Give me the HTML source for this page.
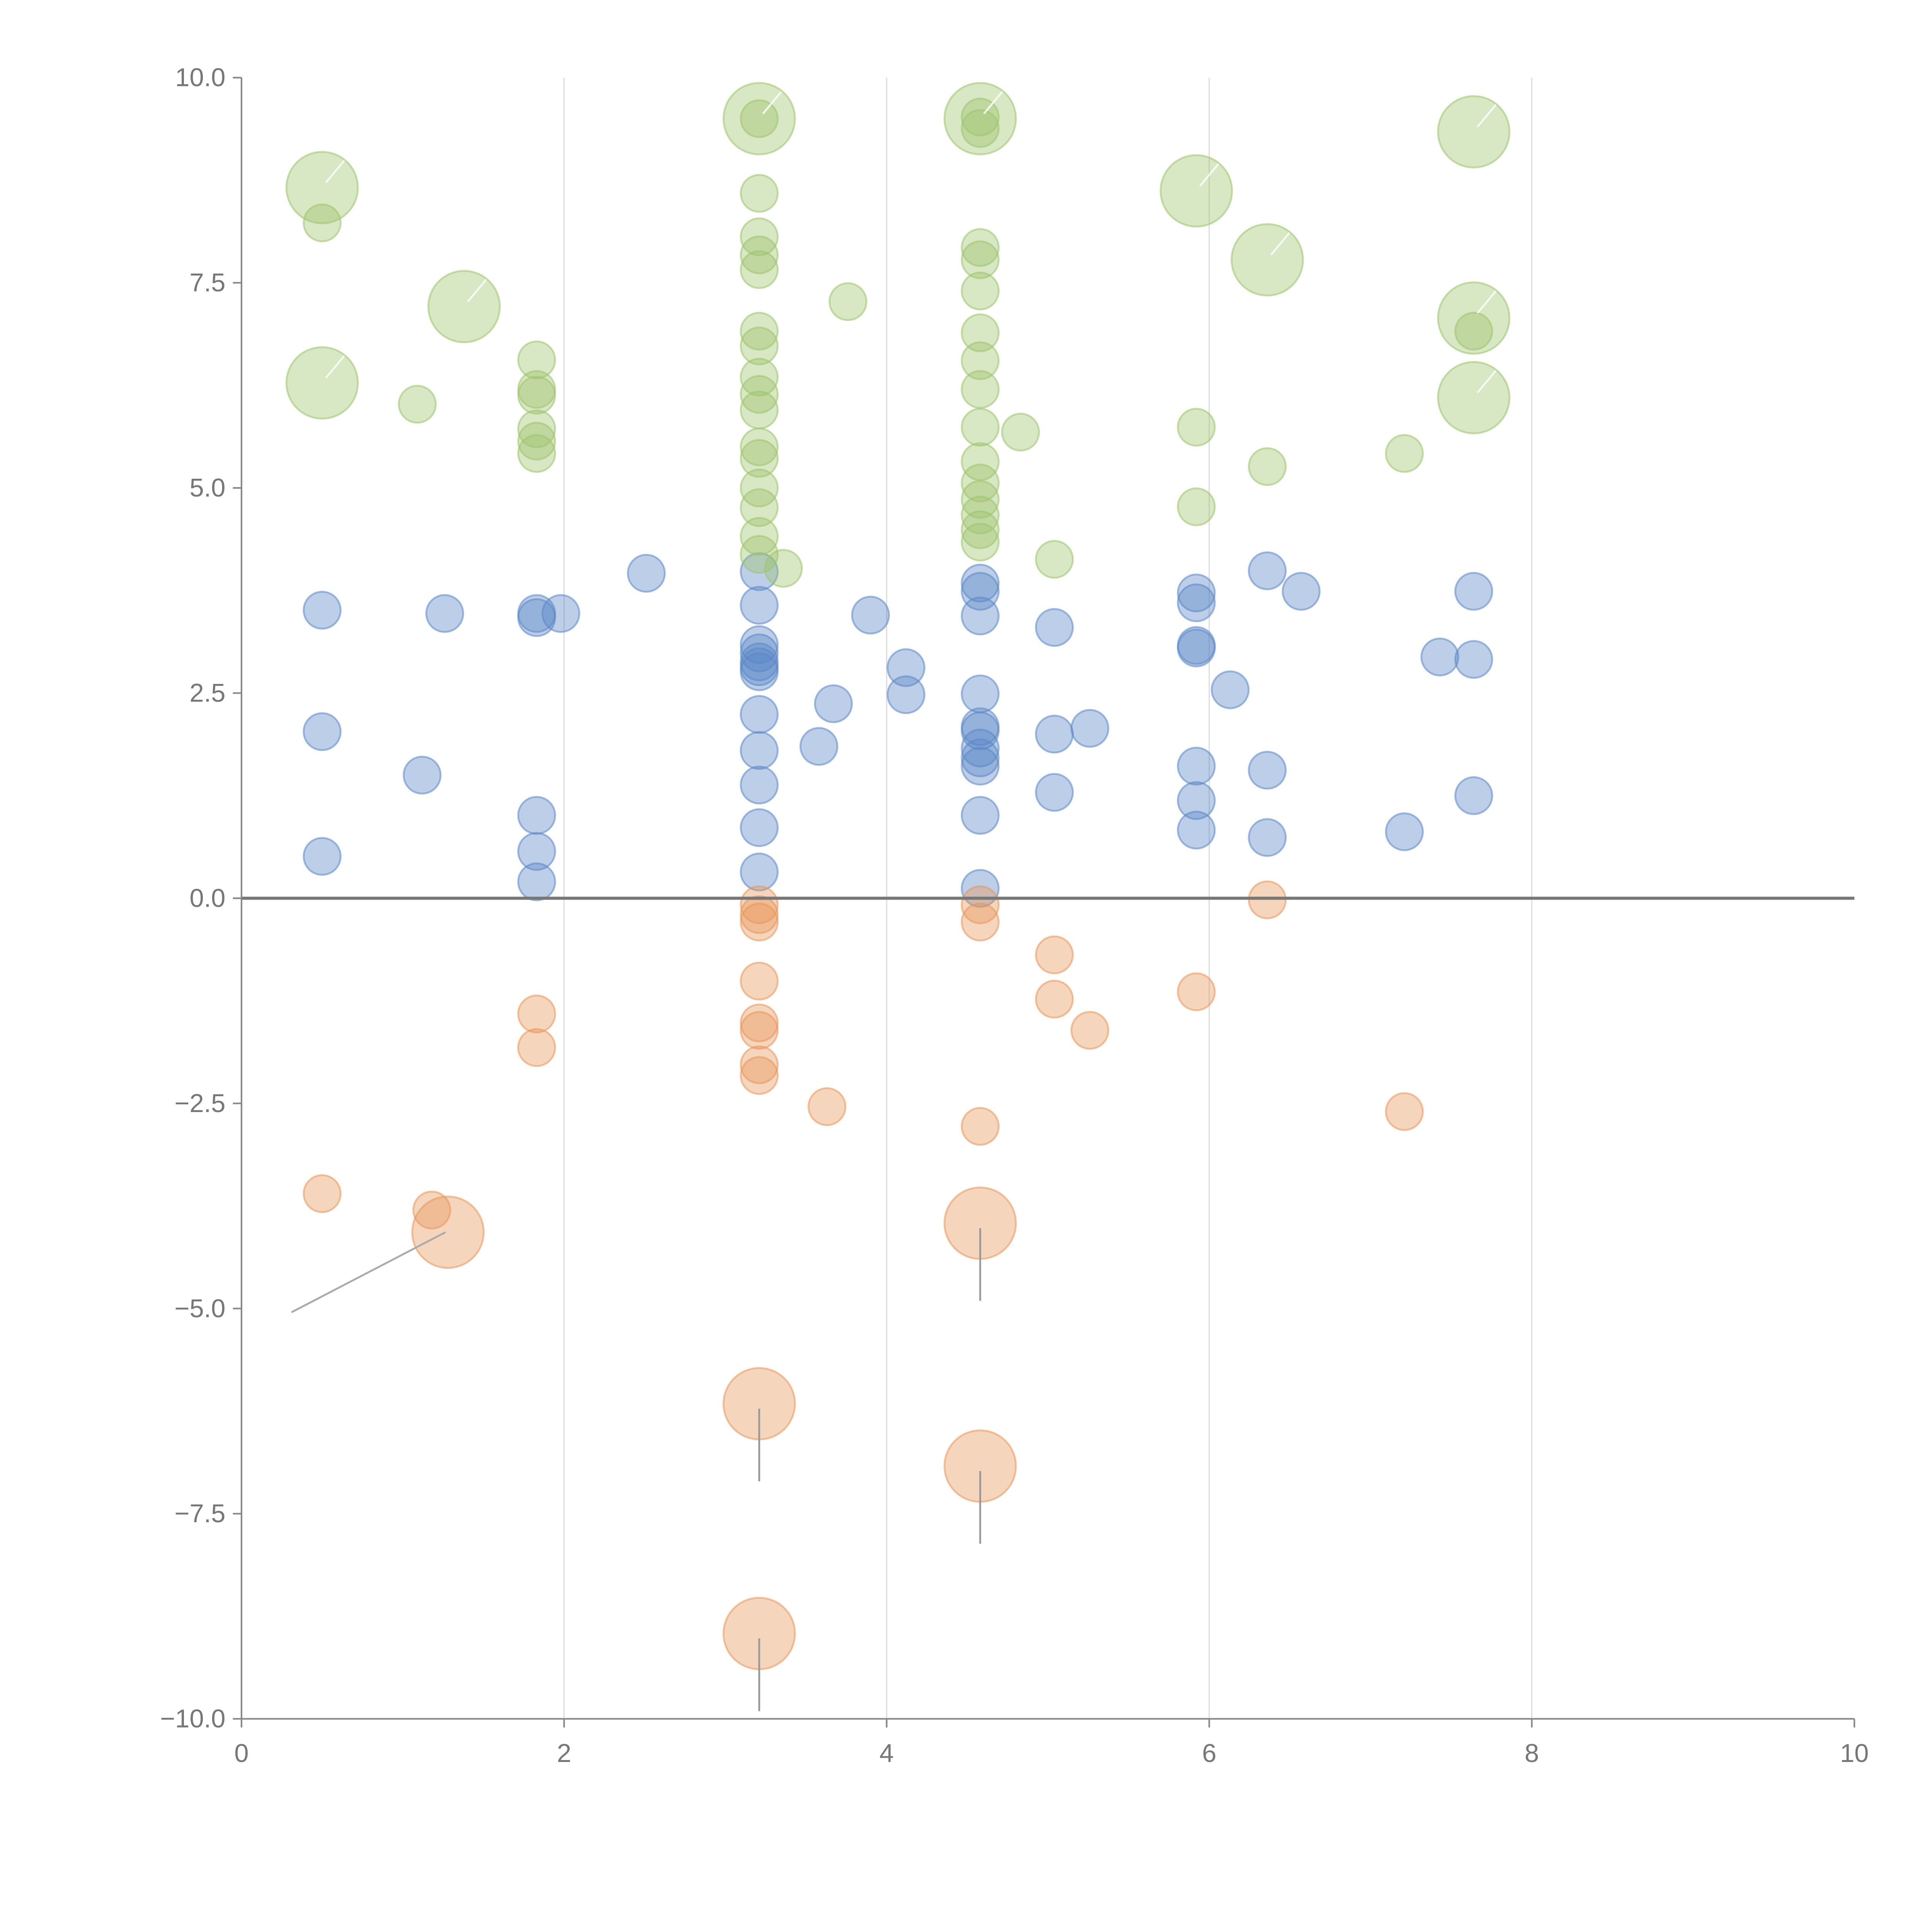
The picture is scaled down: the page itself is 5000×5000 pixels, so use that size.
<!DOCTYPE html>
<html><head><meta charset="utf-8"><style>
html,body{margin:0;padding:0;background:#fff;}
svg{display:block;}
text{font-family:"Liberation Sans",sans-serif;fill:#777;font-size:21px;}
</style></head><body>
<svg id="chart" width="5000" height="5000" viewBox="0 0 1568 1568" xmlns="http://www.w3.org/2000/svg">
<g id="grid"></g>
<g id="marks"></g>
<g id="axes"></g>
</svg>
<script>
const xTicks=[0,2,4,6,8,10];
const yTicks=[-10,-7.5,-5,-2.5,0,2.5,5,7.5,10];
const greenSmallX=[0.50,1.09,1.83,1.83,1.83,1.83,1.83,1.83,3.21,3.21,3.21,3.21,3.21,3.21,3.21,3.21,3.21,3.21,3.21,3.21,3.21,3.21,3.21,3.36,3.76,4.58,4.58,4.58,4.58,4.58,4.58,4.58,4.58,4.58,4.58,4.58,4.58,4.58,4.83,5.04,5.92,5.92,6.36,7.21,7.64,4.58,3.21,4.58];
const greenSmallY=[8.23,6.02,6.56,6.20,6.13,5.72,5.57,5.42,8.59,8.06,7.84,7.66,6.91,6.73,6.35,6.14,5.95,5.50,5.36,5.00,4.76,4.41,4.19,4.02,7.27,7.93,7.78,7.40,6.89,6.55,6.20,5.74,5.32,5.06,4.86,4.67,4.49,4.34,5.68,4.13,5.74,4.77,5.26,5.42,6.91,9.52,9.50,9.38];
const greenLargeX=[0.50,0.50,1.38,3.21,4.58,5.92,6.36,7.64,7.64,7.64];
const greenLargeY=[8.66,6.28,7.21,9.50,9.50,8.62,7.78,9.34,7.07,6.10];
const blueX=[0.50,0.50,0.50,1.12,1.26,1.83,1.83,1.98,1.83,1.83,1.83,2.51,3.21,3.21,3.21,3.21,3.21,3.21,3.21,3.21,3.21,3.21,3.21,3.21,3.58,3.67,3.90,4.12,4.12,4.58,4.58,4.58,4.58,4.58,4.58,4.58,4.58,4.58,4.58,4.58,5.04,5.04,5.04,5.26,5.92,5.92,5.92,5.92,5.92,5.92,5.92,6.13,6.36,6.36,6.36,6.57,7.21,7.43,7.64,7.64,7.64];
const blueY=[3.51,2.03,0.51,1.50,3.47,3.47,3.42,3.47,1.01,0.57,0.20,3.96,3.98,3.57,3.09,2.99,2.88,2.82,2.76,2.24,1.80,1.38,0.86,0.32,1.85,2.37,3.45,2.81,2.48,3.84,3.74,3.44,2.49,2.09,2.04,1.83,1.71,1.61,1.01,0.12,3.30,2.00,1.29,2.07,3.72,3.60,3.08,3.05,1.61,1.19,0.83,2.54,3.99,1.56,0.74,3.74,0.81,2.94,3.74,2.91,1.25];
const orangeSmallX=[3.21,3.21,3.21,3.21,3.21,3.21,3.21,3.21,3.63,1.83,1.83,0.50,1.18,4.58,4.58,4.58,5.04,5.04,5.26,5.92,6.36,7.21];
const orangeSmallY=[-0.08,-0.20,-0.29,-1.01,-1.52,-1.61,-2.03,-2.16,-2.54,-1.41,-1.82,-3.60,-3.80,-0.08,-0.29,-2.78,-0.69,-1.23,-1.61,-1.14,-0.02,-2.60];
const orangeLargeX=[1.28,3.21,4.58,4.58,3.21];
const orangeLargeY=[-4.07,-6.16,-3.96,-6.92,-8.96];

const NS="http://www.w3.org/2000/svg";
const X0=196,X1=1505,Y0=1395,Y1=63;
const sx=v=>X0+(v-0)/(10-0)*(X1-X0);
const sy=v=>Y0-(v+10)/20*(Y0-Y1);
function mk(tag,attrs,parent){const e=document.createElementNS(NS,tag);for(const k in attrs)e.setAttribute(k,attrs[k]);parent.appendChild(e);return e;}
const grid=document.getElementById('grid'),marks=document.getElementById('marks'),axes=document.getElementById('axes');
xTicks.forEach(t=>{if(t>0&&t<10){const l=mk('line',{x1:sx(t),x2:sx(t),y1:Y1,y2:Y0,stroke:'#ddd','stroke-width':1},grid);

}});
function dots(xs,ys,r,fill,stroke,name){xs.forEach((x,i)=>{const c=mk('circle',{cx:sx(x),cy:sy(ys[i]),r:r,fill:fill,'fill-opacity':0.4,stroke:stroke,'stroke-opacity':0.55,'stroke-width':1.5},marks);

});}
dots(blueX,blueY,15,'#5b86c6','#5b86c6','blue-point');
dots(orangeSmallX,orangeSmallY,15,'#e8955a','#e8955a','orange-point');
dots(greenSmallX,greenSmallY,15,'#9dc46c','#9dc46c','green-point');
dots(greenLargeX,greenLargeY,29,'#9dc46c','#9dc46c','green-large-point');
dots(orangeLargeX,orangeLargeY,29,'#e8955a','#e8955a','orange-large-point');
orangeLargeX.forEach((x,i)=>{const cx=sx(x),cy=sy(orangeLargeY[i]);let l;
if(i===0){l=mk('line',{x1:cx-2,y1:cy,x2:cx-127,y2:cy+65,stroke:'#aaa','stroke-width':1.5},marks);}
else{l=mk('line',{x1:cx,y1:cy+4,x2:cx,y2:cy+63,stroke:'#999','stroke-width':1.5},marks);}

});
greenLargeX.forEach((x,i)=>{const cx=sx(x),cy=sy(greenLargeY[i]);const l=mk('line',{x1:cx+3,y1:cy-4,x2:cx+18,y2:cy-22,stroke:'#fff','stroke-width':1.5,'stroke-opacity':0.8},marks);

});
const z=mk('line',{x1:X0,x2:X1,y1:sy(0),y2:sy(0),stroke:'#777','stroke-width':2.5},axes);


const ya=mk('line',{x1:X0,x2:X0,y1:Y1,y2:Y0,stroke:'#888','stroke-width':1.3},axes);


const xa=mk('line',{x1:X0,x2:X1,y1:Y0,y2:Y0,stroke:'#888','stroke-width':1.3},axes);


yTicks.forEach(t=>{const tk=mk('line',{x1:X0-7,x2:X0,y1:sy(t),y2:sy(t),stroke:'#888','stroke-width':1.3},axes);


const tx=mk('text',{x:X0-13,y:sy(t)+7,'text-anchor':'end'},axes);tx.textContent=(t<0?'\u2212':'')+Math.abs(t).toFixed(1);

});
xTicks.forEach(t=>{const tk=mk('line',{x1:sx(t),x2:sx(t),y1:Y0,y2:Y0+7,stroke:'#888','stroke-width':1.3},axes);


const tx=mk('text',{x:sx(t),y:Y0+35,'text-anchor':'middle'},axes);tx.textContent=String(t);

});
</script>
</body></html>
